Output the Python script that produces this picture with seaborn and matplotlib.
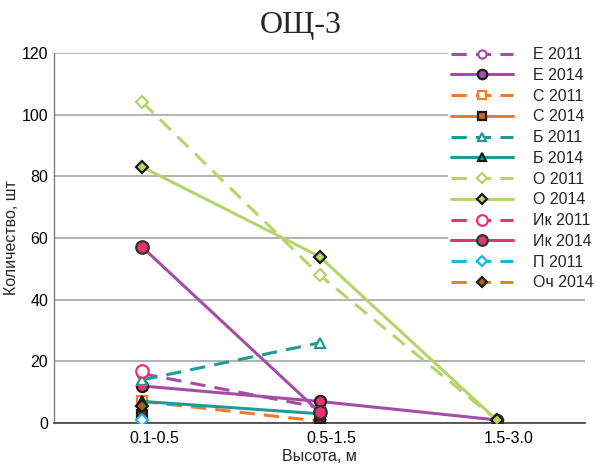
import numpy as np
import pandas as pd
import seaborn as sns
import matplotlib
matplotlib.use("Agg")
import matplotlib.pyplot as plt
import matplotlib.transforms as mtransforms
from matplotlib.lines import Line2D

nan = np.nan
categories = ["0.1-0.5", "0.5-1.5", "1.5-3.0"]
labels = ["Е 2011", "Е 2014", "С 2011", "С 2014", "Б 2011", "Б 2014",
          "О 2011", "О 2014", "Ик 2011", "Ик 2014", "П 2011", "Оч 2014"]
e_2011 = [16, 5, nan]
e_2014 = [12, 7, 1]
s_2011 = [7, 0.6, nan]
s_2014 = [2.5, 1.5, nan]
b_2011 = [14, 26, nan]
b_2014 = [7, 3, nan]
o_2011 = [104, 48, 1]
o_2014 = [83, 54, 1]
ik_2011 = [17, nan, nan]
ik_2014 = [57, 3.5, nan]
p_2011 = [1, nan, nan]
och_2014 = [5.5, nan, nan]
values = [e_2011, e_2014, s_2011, s_2014, b_2011, b_2014,
          o_2011, o_2014, ik_2011, ik_2014, p_2011, och_2014]

PURPLE = "#a64ca6"
ORANGE = "#f07a2a"
TEAL = "#1f9a94"
GREEN = "#b5d569"
PINK = "#e8336b"
BLUE = "#1cb4ea"
GOLD = "#c9902c"
DARK = "#1a1a1a"

# style: line color, dashed, marker, face, edge, size, legend face, data line width
styles = [
    (PURPLE, True, "o", "white", PURPLE, 7, "white", 2.2),
    (PURPLE, False, "o", PINK, DARK, 8, PURPLE, 2.2),
    (ORANGE, True, "s", "white", ORANGE, 7, "white", 2.2),
    (ORANGE, False, "s", "#5a3018", DARK, 7, "#d35f1a", 0),
    (TEAL, True, "^", "white", TEAL, 7, "white", 2.2),
    (TEAL, False, "^", TEAL, DARK, 7, TEAL, 2.2),
    (GREEN, True, "D", "white", GREEN, 6, "white", 2.2),
    (GREEN, False, "D", GREEN, DARK, 6, GREEN, 2.2),
    (PINK, True, "o", "white", PINK, 9, "white", 2.2),
    (PURPLE, False, "o", PINK, "#333333", 9, PINK, 2.2),
    (BLUE, True, "D", "white", BLUE, 6, "white", 2.2),
    (GOLD, True, "D", "#a5661c", DARK, 6, "#a5661c", 2.2),
]
legend_line_colors = [PURPLE, PURPLE, ORANGE, ORANGE, TEAL, TEAL, GREEN, GREEN,
                      PINK, PINK, BLUE, GOLD]

sns.set_theme(style="white")
plt.rcParams["font.family"] = ["Liberation Sans", "DejaVu Sans"]

fig = plt.figure(figsize=(5.95, 4.67), dpi=100)
ax = fig.add_axes([0.0905, 0.0942, 0.893, 0.7923])

xpos = np.arange(len(categories))
for lab, vals, st in zip(labels, values, styles):
    color, dashed, mk, fc, ec, ms, _, lw = st
    df = pd.DataFrame({"x": xpos, "y": vals}).dropna()
    sns.lineplot(data=df, x="x", y="y", ax=ax, color=color, linewidth=lw,
                 marker=mk, markersize=ms, markerfacecolor=fc,
                 markeredgecolor=ec, markeredgewidth=1.6, sort=False,
                 errorbar=None, legend=False, zorder=3)
    ln = ax.lines[-1]
    if dashed:
        ln.set_dashes((5, 3))

ax.set_xlim(-0.5, 2.5)
ax.set_ylim(0, 120)
ax.set_yticks(range(0, 121, 20))
ax.set_xticks(xpos)
ax.set_xticklabels(categories)
ax.yaxis.grid(True, color="#a6a6a6", linewidth=1.2)
ax.xaxis.grid(False)
ax.set_axisbelow(True)
for sp in ["top", "right"]:
    ax.spines[sp].set_visible(False)
ax.spines["left"].set_color("#7f7f7f")
ax.spines["bottom"].set_color("#404040")
ax.spines["left"].set_linewidth(1.0)
ax.spines["bottom"].set_linewidth(1.2)
ax.tick_params(axis="y", labelsize=11.5, colors="#000000", length=2.5,
               color="#7f7f7f", pad=1.5, direction="out")
ax.tick_params(axis="x", which="major", labelsize=11.5, colors="#000000",
               length=0, pad=6)
ax.set_xticks([0.5, 1.5], minor=True)
ax.tick_params(axis="x", which="minor", length=4, color="#404040", direction="out")

offset = mtransforms.ScaledTranslation(12 / 100, 0, fig.dpi_scale_trans)
for t in ax.get_xticklabels():
    t.set_transform(t.get_transform() + offset)

ax.set_xlabel("Высота, м", fontsize=11.5, labelpad=2)
ax.set_ylabel("Количество, шт", fontsize=11.5)
ax.yaxis.set_label_coords(-0.066, 0.5)
fig.text(0.506, 0.929, "ОЩ-3", fontsize=23, ha="center", va="baseline",
         family=["Liberation Serif", "DejaVu Serif"])

handles = []
for st, lc in zip(styles, legend_line_colors):
    color, dashed, mk, fc, ec, ms, lfc, _ = st
    h = Line2D([0], [0], color=lc, linewidth=2.2, marker=mk, markersize=ms * 0.85,
               markerfacecolor=lfc, markeredgecolor=ec if lfc != "white" else lc,
               markeredgewidth=1.6)
    if dashed:
        h.set_dashes((5, 3))
    handles.append(h)
leg = fig.legend(handles, labels, loc="upper left",
                 bbox_to_anchor=(448 / 595, 1 - 44 / 467),
                 fontsize=11.5, frameon=True, facecolor="white", edgecolor="none",
                 framealpha=1, handlelength=3.9, labelspacing=0.36, numpoints=1,
                 handletextpad=1.2, borderpad=0.2, borderaxespad=0)
leg.set_zorder(5)

fig.savefig("out.png", dpi=100)
